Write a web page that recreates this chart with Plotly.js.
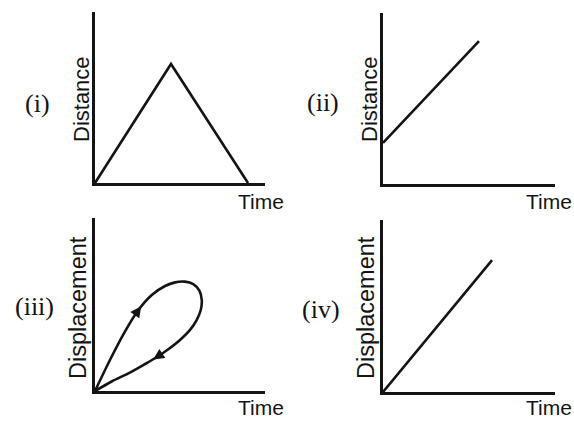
<!DOCTYPE html>
<html>
<head>
<meta charset="utf-8">
<script src="https://cdn.plot.ly/plotly-3.0.1.min.js"></script>
<style>html,body{margin:0;padding:0;background:#fff}#plot{width:574px;height:421px}</style>
</head>
<body>
<div id="plot"></div>
<script>
// ---- data ----
const panelLabels = ['(i)', '(ii)', '(iii)', '(iv)'];
const yTitles = ['Distance', 'Distance', 'Displacement', 'Displacement'];
const xTitle = 'Time';

// (i) distance rises then falls back
const triTime = [0, 4.47, 9.0];
const triDist = [0, 6.96, 0];

// (ii) distance starting from non-zero value
const offTime = [0, 5.58];
const offDist = [2.4, 8.36];

// (iii) loop of displacement: out along the upper branch, back along the lower one
const loopTime = [0, 0.88, 1.76, 2.55, 3.34, 4.12, 4.71, 5.29, 5.78, 6.14, 6.28, 6.22, 5.98, 5.59, 5.0, 4.31, 3.63, 2.84, 1.96, 0.98, 0.04];
const loopDisp = [0, 1.79, 3.43, 4.68, 5.55, 6.07, 6.28, 6.32, 6.18, 5.80, 5.26, 4.68, 4.10, 3.53, 2.95, 2.41, 1.95, 1.50, 1.02, 0.55, 0.02];
// direction arrows on the loop (tail -> head)
const arrowTailTime = [2.3, 3.95];
const arrowTailDisp = [4.33, 2.16];
const arrowHeadTime = [2.72, 3.42];
const arrowHeadDisp = [4.90, 1.82];

// (iv) uniform displacement
const uniTime = [0, 6.34];
const uniDisp = [0, 7.67];

// ---- layout helpers ----
const W = 574, H = 421;
const ink = '#141414';
const boxes = [
  {x0: 95,  x1: 265, yt: 12,  yb: 183},
  {x0: 383, x1: 555, yt: 13,  yb: 184},
  {x0: 95,  x1: 265, yt: 218, yb: 391},
  {x0: 383, x1: 555, yt: 220, yb: 392}
];
const labelPos = [[37, 103], [323, 102], [34, 306], [321, 309]];
const yTitlePos = [[81, 99], [369, 99], [78, 308], [366, 308]];

const layout = {
  width: W, height: H,
  margin: {l: 0, r: 0, t: 0, b: 0},
  paper_bgcolor: '#ffffff', plot_bgcolor: 'rgba(0,0,0,0)',
  showlegend: false,
  annotations: []
};

boxes.forEach((b, i) => {
  const s = i === 0 ? '' : String(i + 1);
  layout['xaxis' + s] = {
    domain: [b.x0 / W, b.x1 / W], range: [0, 10], anchor: 'y' + s,
    showline: true, linewidth: 3, linecolor: ink, showgrid: false, zeroline: false,
    showticklabels: false, ticks: '', fixedrange: true
  };
  layout['yaxis' + s] = {
    domain: [1 - b.yb / H, 1 - b.yt / H], range: [0, 10], anchor: 'x' + s,
    showline: true, linewidth: 3, linecolor: ink, showgrid: false, zeroline: false,
    showticklabels: false, ticks: '', fixedrange: true
  };
  layout.annotations.push({
    text: panelLabels[i], xref: 'paper', yref: 'paper',
    x: labelPos[i][0] / W, y: 1 - labelPos[i][1] / H, xanchor: 'center', yanchor: 'middle',
    showarrow: false, font: {family: 'Liberation Serif', size: 26, color: ink}
  });
  layout.annotations.push({
    text: yTitles[i], xref: 'paper', yref: 'paper', textangle: -90,
    x: yTitlePos[i][0] / W, y: 1 - yTitlePos[i][1] / H, xanchor: 'center', yanchor: 'middle',
    showarrow: false, font: {family: 'Liberation Sans', size: i < 2 ? 22 : 23.5, color: ink}
  });
  // "Time" sits just below the right end of each horizontal axis
  const bottomRow = i >= 2;
  const rightCol = i % 2 === 1;
  layout.annotations.push({
    text: xTitle, xref: 'paper', yref: 'paper',
    x: rightCol ? 1 : 261 / W,
    y: bottomRow ? 0 : 1 - 201 / H,
    xanchor: rightCol ? 'right' : 'center',
    yanchor: bottomRow ? 'bottom' : 'middle',
    showarrow: false, font: {family: 'Liberation Sans', size: 21, color: ink}
  });
});

for (let k = 0; k < arrowHeadTime.length; k++) {
  layout.annotations.push({
    xref: 'x3', yref: 'y3', axref: 'x3', ayref: 'y3',
    x: arrowHeadTime[k], y: arrowHeadDisp[k], ax: arrowTailTime[k], ay: arrowTailDisp[k],
    text: '', showarrow: true, arrowhead: 2, arrowsize: 1.1, arrowwidth: 2,
    arrowcolor: ink, standoff: 0, startstandoff: 0
  });
}

const lineStyle = {color: ink, width: 2.6};
const traces = [
  {x: triTime, y: triDist, xaxis: 'x', yaxis: 'y', mode: 'lines', line: lineStyle},
  {x: offTime, y: offDist, xaxis: 'x2', yaxis: 'y2', mode: 'lines', line: lineStyle},
  {x: loopTime, y: loopDisp, xaxis: 'x3', yaxis: 'y3', mode: 'lines',
   line: Object.assign({shape: 'spline', smoothing: 0.8}, lineStyle)},
  {x: uniTime, y: uniDisp, xaxis: 'x4', yaxis: 'y4', mode: 'lines', line: lineStyle}
];

Plotly.newPlot('plot', traces, layout, {staticPlot: true, displayModeBar: false});
</script>
</body>
</html>
